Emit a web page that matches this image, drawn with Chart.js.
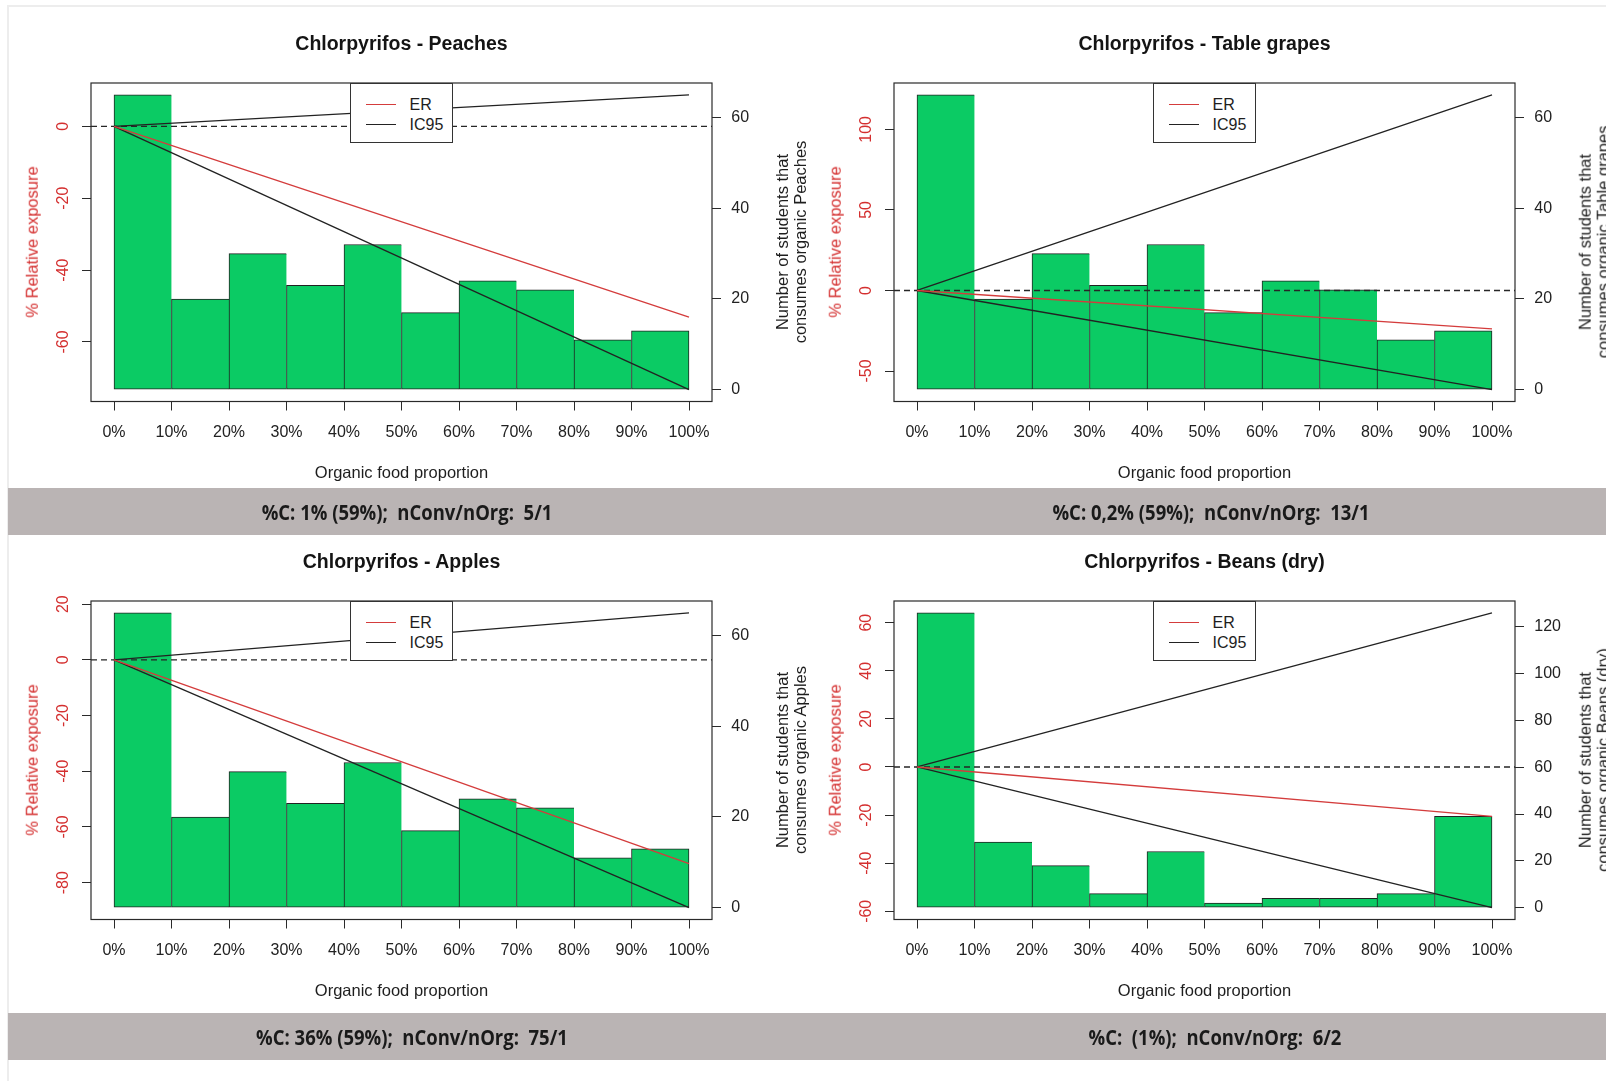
<!DOCTYPE html>
<html>
<head>
<meta charset="utf-8">
<script src="https://cdn.jsdelivr.net/npm/chart.js@4.4.1/dist/chart.umd.min.js"></script>
<style>
html,body{margin:0;padding:0;background:#fff;}
#page{position:relative;width:1606px;height:1081px;overflow:hidden;background:#fff;font-family:"Liberation Sans",Arial,sans-serif;color:#1e1e1e;}
.frame{position:absolute;left:7px;top:5px;right:-5px;bottom:-5px;border-left:2px solid #ededed;border-top:2px solid #ededed;}
canvas{position:absolute;}
.t{position:absolute;white-space:pre;transform:translate(-50%,-50%);line-height:1;}
.title{font-weight:bold;font-size:19.5px;color:#141414;}
.xt{font-size:16.5px;}
.yl{font-size:16.5px;color:#d42f2f;transform:translate(-50%,-50%) rotate(-90deg);}
.yr{font-size:16.5px;line-height:18.3px;text-align:center;transform:translate(-50%,-50%) rotate(-90deg);}
.legend{position:absolute;background:#fff;border:1px solid #333;box-sizing:border-box;width:103px;height:60px;}
.legend .ln{position:absolute;left:15px;width:30px;height:0;border-top:1.3px solid #222;}
.legend .lt{position:absolute;left:59px;font-size:16px;line-height:18px;white-space:pre;color:#1e1e1e;}
.band{position:absolute;left:8px;width:1598px;height:47px;background:#bab4b4;}
.bt{position:absolute;font-family:"Open Sans","Noto Sans",sans-serif;font-weight:700;font-size:21px;white-space:pre;transform:translate(-50%,-50%) scaleX(0.88);color:#1a1a1a;line-height:1;}
</style>
</head>
<body>
<div id="page">
  <div class="frame"></div>
  <div class="band" style="top:488px"></div>
  <div class="band" style="top:1013px"></div>
</div>
<script>
// ---------- data ----------
const foods = ['Peaches', 'Table grapes', 'Apples', 'Beans (dry)'];
const binEdges = [0, 10, 20, 30, 40, 50, 60, 70, 80, 90, 100];
const xTickValues = [0, 10, 20, 30, 40, 50, 60, 70, 80, 90, 100];
const lineX = [0, 100];

const peachesCounts = [65, 20, 30, 23, 32, 17, 24, 22, 11, 13];
const grapesCounts  = [65, 20, 30, 23, 32, 17, 24, 22, 11, 13];
const applesCounts  = [65, 20, 30, 23, 32, 17, 24, 22, 11, 13];
const beansCounts   = [126, 28, 18, 6, 24, 2, 4, 4, 6, 39];

const peachesER = [0, -53.1];
const peachesIC95Low = [0, -73.3];
const peachesIC95High = [0, 8.8];
const grapesER = [0, -23.8];
const grapesIC95Low = [0, -61.6];
const grapesIC95High = [0, 121.5];
const applesER = [0, -73.2];
const applesIC95Low = [0, -89.0];
const applesIC95High = [0, 16.9];
const beansER = [0, -20.5];
const beansIC95Low = [0, -58.5];
const beansIC95High = [0, 64.1];

const peachesLeftTicks = [-60, -40, -20, 0];
const grapesLeftTicks = [-50, 0, 50, 100];
const applesLeftTicks = [-80, -60, -40, -20, 0, 20];
const beansLeftTicks = [-60, -40, -20, 0, 20, 40, 60];
const peachesRightTicks = [0, 20, 40, 60];
const grapesRightTicks = [0, 20, 40, 60];
const applesRightTicks = [0, 20, 40, 60];
const beansRightTicks = [0, 20, 40, 60, 80, 100, 120];

const bandTexts = [
  '%C: 1% (59%);  nConv/nOrg:  5/1',
  '%C: 0,2% (59%);  nConv/nOrg:  13/1',
  '%C: 36% (59%);  nConv/nOrg:  75/1',
  '%C:  (1%);  nConv/nOrg:  6/2'
];
const legendLabels = ['ER', 'IC95'];
const xAxisTitle = 'Organic food proportion';
const leftAxisTitle = '% Relative exposure';

// ---------- layout / style ----------
const FONT = '"Liberation Sans", Arial, sans-serif';
const GREEN = '#0bcb64';
const RED_TEXT = '#d42f2f';
const ER_COLOR = '#d43c3c';
const INK = '#222';
const W = 830, H = 480;
const BOX = {left: 91, right: 712, top: 83, bottom: 401.5};
const AXW = {left: 40, right: 60, bottom: 50};

const panels = [
  {food: foods[0], counts: peachesCounts, er: peachesER, low: peachesIC95Low, high: peachesIC95High,
   leftTicks: peachesLeftTicks, rightTicks: peachesRightTicks, ox: 0, oy: 0, band: bandTexts[0], bx: 406.5, by: 511.5},
  {food: foods[1], counts: grapesCounts, er: grapesER, low: grapesIC95Low, high: grapesIC95High,
   leftTicks: grapesLeftTicks, rightTicks: grapesRightTicks, ox: 803, oy: 0, band: bandTexts[1], bx: 1211, by: 511.5},
  {food: foods[2], counts: applesCounts, er: applesER, low: applesIC95Low, high: applesIC95High,
   leftTicks: applesLeftTicks, rightTicks: applesRightTicks, ox: 0, oy: 518, band: bandTexts[2], bx: 412, by: 1036.5},
  {food: foods[3], counts: beansCounts, er: beansER, low: beansIC95Low, high: beansIC95High,
   leftTicks: beansLeftTicks, rightTicks: beansRightTicks, ox: 803, oy: 518, band: bandTexts[3], bx: 1215, by: 1036.5}
];

function pad4(lo, hi) { const d = (hi - lo) * 0.04; return [lo - d, hi + d]; }

const boxPlugin = {
  id: 'rbox',
  afterDraw(chart) {
    const {ctx, chartArea: a} = chart;
    ctx.save();
    ctx.strokeStyle = '#2a2a2a';
    ctx.lineWidth = 1.2;
    ctx.strokeRect(a.left, a.top, a.right - a.left, a.bottom - a.top);
    ctx.restore();
  }
};

function addText(cls, text, x, y, extraStyle) {
  const d = document.createElement('div');
  d.className = cls;
  d.textContent = text;
  d.style.left = x + 'px';
  d.style.top = y + 'px';
  if (extraStyle) Object.assign(d.style, extraStyle);
  document.getElementById('page').appendChild(d);
  return d;
}

function makePanel(p) {
  const page = document.getElementById('page');
  const cv = document.createElement('canvas');
  cv.width = W; cv.height = H;
  cv.style.left = p.ox + 'px'; cv.style.top = p.oy + 'px';
  cv.style.width = W + 'px'; cv.style.height = H + 'px';
  page.appendChild(cv);

  const allLine = [...p.er, ...p.low, ...p.high];
  const [yMin, yMax] = pad4(Math.min(...allLine), Math.max(...allLine));
  const [cMin, cMax] = pad4(0, Math.max(...p.counts));
  const [xMin, xMax] = pad4(binEdges[0], binEdges[binEdges.length - 1]);

  const mctx = cv.getContext('2d');
  mctx.font = '16px ' + FONT;
  const widest = Math.max(...p.leftTicks.map(v => mctx.measureText(String(v)).width));

  const gridOpts = {drawOnChartArea: false, drawTicks: true, tickLength: 9, color: '#2a2a2a', lineWidth: 1, offset: false};
  const tickFont = {family: FONT, size: 16};
  const last = p.counts.length - 1;

  new Chart(cv, {
    type: 'bar',
    data: {
      datasets: [
        {type: 'line', label: 'ER', data: lineX.map((x, i) => ({x, y: p.er[i]})), xAxisID: 'x', yAxisID: 'y',
         borderColor: ER_COLOR, borderWidth: 1.3, pointRadius: 0, tension: 0, fill: false, order: 1},
        {type: 'line', label: 'IC95', data: lineX.map((x, i) => ({x, y: p.low[i]})), xAxisID: 'x', yAxisID: 'y',
         borderColor: INK, borderWidth: 1.3, pointRadius: 0, tension: 0, fill: false, order: 2},
        {type: 'line', label: 'IC95 upper', data: lineX.map((x, i) => ({x, y: p.high[i]})), xAxisID: 'x', yAxisID: 'y',
         borderColor: INK, borderWidth: 1.3, pointRadius: 0, tension: 0, fill: false, order: 2},
        {type: 'line', label: 'zero', data: [{x: xMin, y: 0}, {x: xMax, y: 0}], xAxisID: 'x', yAxisID: 'y',
         borderColor: '#262626', borderWidth: 1.4, borderDash: [6, 4], pointRadius: 0, fill: false, order: 3},
        {type: 'bar', label: 'Students', data: p.counts.map((c, i) => ({x: (binEdges[i] + binEdges[i + 1]) / 2, y: c})),
         xAxisID: 'x', yAxisID: 'y1', backgroundColor: GREEN, borderColor: INK,
         borderWidth: (ctx) => ({top: 1, bottom: 1, left: 1, right: ctx.dataIndex === last ? 1 : 0}),
         borderSkipped: false, barPercentage: 1, categoryPercentage: 1, order: 10}
      ]
    },
    options: {
      responsive: false, animation: false, devicePixelRatio: 1, events: [],
      layout: {autoPadding: false, padding: {left: BOX.left - AXW.left, right: W - BOX.right - AXW.right, top: BOX.top, bottom: H - BOX.bottom - AXW.bottom}},
      plugins: {legend: {display: false}, tooltip: {enabled: false}, title: {display: false}},
      scales: {
        x: {type: 'linear', position: 'bottom', min: xMin, max: xMax, offset: false,
            afterBuildTicks: s => { s.ticks = xTickValues.map(v => ({value: v})); },
            afterFit: s => { s.height = AXW.bottom; },
            ticks: {callback: v => v + '%', font: tickFont, color: INK, padding: 12.4, autoSkip: false, maxRotation: 0, minRotation: 0},
            grid: gridOpts, border: {display: false}},
        y: {type: 'linear', position: 'left', min: yMin, max: yMax,
            afterBuildTicks: s => { s.ticks = p.leftTicks.map(v => ({value: v})); },
            afterFit: s => { s.width = AXW.left; },
            ticks: {callback: v => String(v), font: tickFont, color: RED_TEXT, minRotation: 90, maxRotation: 90,
                    crossAlign: 'center', padding: 18.5 - widest / 2, autoSkip: false},
            grid: gridOpts, border: {display: false}},
        y1: {type: 'linear', position: 'right', min: cMin, max: cMax,
            afterBuildTicks: s => { s.ticks = p.rightTicks.map(v => ({value: v})); },
            afterFit: s => { s.width = AXW.right; },
            ticks: {callback: v => String(v), font: tickFont, color: INK, padding: 10.3, autoSkip: false},
            grid: gridOpts, border: {display: false}}
      }
    },
    plugins: [boxPlugin]
  });

  const cx = p.ox + (BOX.left + BOX.right) / 2;
  const cy = p.oy + (BOX.top + BOX.bottom) / 2;
  addText('t title', 'Chlorpyrifos - ' + p.food, cx, p.oy + 44);
  addText('t xt', xAxisTitle, cx, p.oy + 472);
  addText('t yl', leftAxisTitle, p.ox + BOX.left - 59.5, cy);
  addText('t yr', 'Number of students that\nconsumes organic ' + p.food, p.ox + BOX.right + 79.2, cy);

  // legend
  const lg = document.createElement('div');
  lg.className = 'legend';
  lg.style.left = (p.ox + BOX.left + 258.6) + 'px';
  lg.style.top = (p.oy + BOX.top) + 'px';
  const colors = [ER_COLOR, INK];
  legendLabels.forEach((lab, i) => {
    const ln = document.createElement('div');
    ln.className = 'ln';
    ln.style.top = (19.5 + 20 * i) + 'px';
    ln.style.borderTopColor = colors[i];
    lg.appendChild(ln);
    const lt = document.createElement('div');
    lt.className = 'lt';
    lt.style.top = (11.5 + 20 * i) + 'px';
    lt.textContent = lab;
    lg.appendChild(lt);
  });
  page.appendChild(lg);

  addText('bt', p.band, p.bx, p.by);
}

panels.forEach(makePanel);
</script>
</body>
</html>
